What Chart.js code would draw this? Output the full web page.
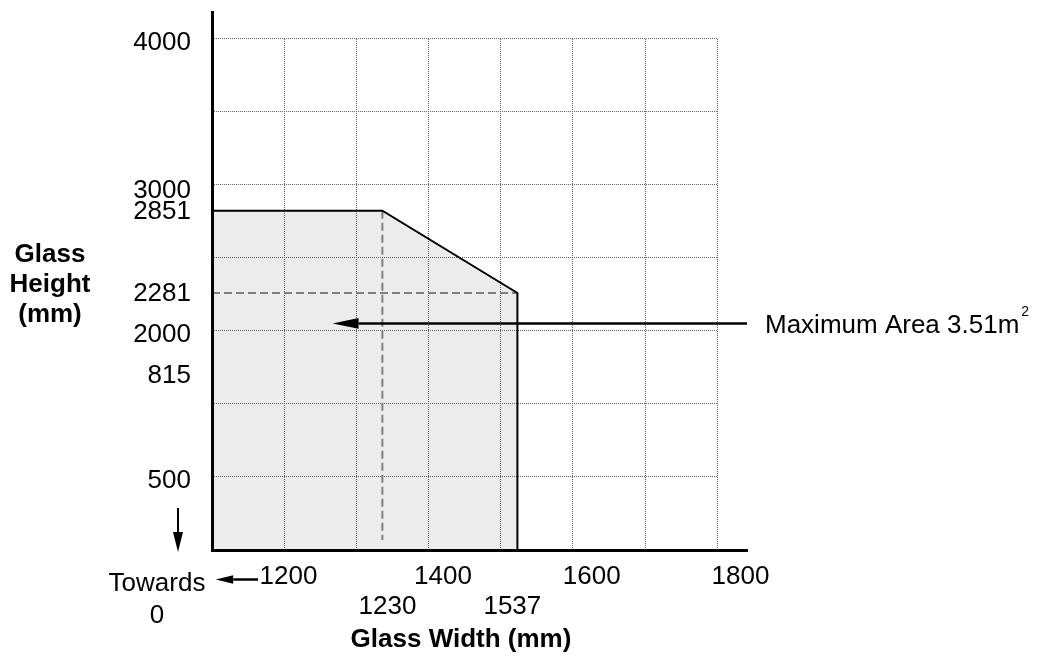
<!DOCTYPE html>
<html><head><meta charset="utf-8">
<script src="https://cdn.jsdelivr.net/npm/chart.js@4.4.0/dist/chart.umd.min.js"></script>
<style>html,body{margin:0;padding:0;background:#fff}canvas{display:block}</style>
</head><body>
<canvas id="c" width="1045" height="657"></canvas>
<script>
// ---- data (in the drawing's axis units) ----
const xRange = [1100, 1841];
const yRange = [500, 4178];
const gridX = [1200, 1300, 1400, 1500, 1600, 1700, 1800];
const gridY = [1000, 1500, 2000, 2500, 3000, 3500, 4000];
const envelopeX = [1100, 1336, 1523, 1523];
const envelopeY = [2820, 2820, 2257, 500];
const widthGuideX = [1336, 1336];
const widthGuideY = [2820, 568];
const heightGuideX = [1100, 1523];
const heightGuideY = [2257, 2257];
const areaArrowX = [1841, 1267];
const areaArrowY = [2049, 2049];
const xTickLabels = ['1200', '1400', '1600', '1800'];
const xTickAt = [1206, 1420, 1626, 1832];
const xLimitLabels = ['1230', '1537'];
const xLimitAt = [1343, 1516];
const yTickLabels = ['500', '815', '2000', '2281', '2851', '3000', '4000'];
const yTickAt = [972, 1690, 1970, 2250, 2811, 2954, 3969];
const areaLabel = 'Maximum Area 3.51m';
const areaSup = '2';

const FONT = '"Liberation Sans", Arial, Helvetica, sans-serif';
const pts = (xs, ys) => xs.map((x, i) => ({x, y: ys[i]}));
const crisp = p => Math.round(p - 0.5) + 0.5;

const gridPlugin = {
  id: 'dottedGrid',
  beforeDatasetsDraw(chart) {
    const {ctx, scales: {x, y}} = chart;
    ctx.save();
    ctx.strokeStyle = '#666';
    ctx.lineWidth = 1;
    ctx.setLineDash([1, 1]);
    const xl = x.getPixelForValue(xRange[0]);
    const xr = x.getPixelForValue(gridX[gridX.length - 1]);
    const yb = y.getPixelForValue(yRange[0]);
    const yt = y.getPixelForValue(gridY[gridY.length - 1]);
    gridX.forEach(v => {
      const px = crisp(x.getPixelForValue(v));
      ctx.beginPath(); ctx.moveTo(px, yb); ctx.lineTo(px, yt); ctx.stroke();
    });
    gridY.forEach(v => {
      const py = crisp(y.getPixelForValue(v));
      ctx.beginPath(); ctx.moveTo(xl, py); ctx.lineTo(xr, py); ctx.stroke();
    });
    ctx.restore();
  }
};

function arrow(ctx, x0, y0, x1, y1, headLen, headHalf, width) {
  const a = Math.atan2(y1 - y0, x1 - x0);
  const bx = x1 - Math.cos(a) * headLen, by = y1 - Math.sin(a) * headLen;
  ctx.lineWidth = width;
  ctx.beginPath(); ctx.moveTo(x0, y0); ctx.lineTo(bx, by); ctx.stroke();
  ctx.beginPath();
  ctx.moveTo(x1, y1);
  ctx.lineTo(bx - Math.sin(a) * headHalf, by + Math.cos(a) * headHalf);
  ctx.lineTo(bx + Math.sin(a) * headHalf, by - Math.cos(a) * headHalf);
  ctx.closePath(); ctx.fill();
}

const notePlugin = {
  id: 'notes',
  afterDraw(chart) {
    const {ctx, chartArea: ca, scales: {x, y}} = chart;
    ctx.save();
    ctx.fillStyle = '#000';
    ctx.strokeStyle = '#000';
    // area arrow
    const ay = y.getPixelForValue(areaArrowY[0]);
    arrow(ctx, x.getPixelForValue(areaArrowX[0]), ay, x.getPixelForValue(areaArrowX[1]), ay, 26, 5.3, 2.5);
    // area label
    ctx.font = '26px ' + FONT;
    ctx.textAlign = 'left';
    ctx.textBaseline = 'alphabetic';
    const tx = 765;
    ctx.fillText(areaLabel, tx, 333);
    const w = ctx.measureText(areaLabel).width;
    ctx.font = '14px ' + FONT;
    ctx.fillText(areaSup, tx + w + 2, 315.5);
    // towards 0 arrows
    arrow(ctx, ca.left - 34, ca.bottom - 42, ca.left - 34, ca.bottom + 2, 20, 5, 2);
    arrow(ctx, ca.left + 46, ca.bottom + 29.5, ca.left + 3.7, ca.bottom + 29.5, 17.5, 4.2, 2.5);
    ctx.font = '26px ' + FONT;
    ctx.textAlign = 'center';
    ctx.fillText('Towards', 157, 591);
    ctx.fillText('0', 157, 623);
    // axis titles
    ctx.font = 'bold 26px ' + FONT;
    ctx.fillText('Glass Width (mm)', 461, 646.5);
    ctx.fillText('Glass', 50, 261.5);
    ctx.fillText('Height', 50, 291.5);
    ctx.fillText('(mm)', 50, 322);
    ctx.restore();
  }
};

const tickFont = {family: FONT, size: 26};

new Chart(document.getElementById('c'), {
  type: 'scatter',
  data: {
    datasets: [
      {
        data: pts(envelopeX, envelopeY),
        showLine: true,
        fill: 'start',
        backgroundColor: 'rgba(0,0,0,0.075)',
        borderColor: '#000',
        borderWidth: 2,
        pointRadius: 0,
        tension: 0
      },
      {
        data: pts(widthGuideX, widthGuideY),
        showLine: true, fill: false,
        borderColor: '#8a8a8a', borderWidth: 2, borderDash: [8, 4],
        pointRadius: 0
      },
      {
        data: pts(heightGuideX, heightGuideY),
        showLine: true, fill: false,
        borderColor: '#8a8a8a', borderWidth: 2, borderDash: [8, 4],
        pointRadius: 0
      }
    ]
  },
  options: {
    responsive: false,
    animation: false,
    devicePixelRatio: 1,
    layout: {padding: {left: 0, top: 12, right: 298, bottom: 37}},
    plugins: {legend: {display: false}, tooltip: {enabled: false}},
    scales: {
      x: {
        type: 'linear', position: 'bottom', min: xRange[0], max: xRange[1],
        grid: {display: false, drawTicks: false},
        border: {display: true, color: '#000', width: 3, z: 1},
        ticks: {font: tickFont, color: '#000', padding: 11, autoSkip: false, maxRotation: 0,
          callback: (v, i) => xTickLabels[i]},
        afterBuildTicks: s => { s.ticks = xTickAt.map(v => ({value: v})); },
        afterFit: s => { s.height = 40; s.paddingLeft = 0; s.paddingRight = 0; }
      },
      x2: {
        type: 'linear', axis: 'x', position: 'bottom', min: xRange[0], max: xRange[1],
        grid: {display: false, drawTicks: false},
        border: {display: false},
        ticks: {font: tickFont, color: '#000', padding: 1, autoSkip: false, maxRotation: 0,
          callback: (v, i) => xLimitLabels[i]},
        afterBuildTicks: s => { s.ticks = xLimitAt.map(v => ({value: v})); },
        afterFit: s => { s.height = 30; s.paddingLeft = 0; s.paddingRight = 0; }
      },
      y: {
        type: 'linear', position: 'left', min: yRange[0], max: yRange[1],
        grid: {display: false, drawTicks: false},
        border: {display: true, color: '#000', width: 3, z: 1},
        ticks: {font: tickFont, color: '#000', padding: 21, autoSkip: false,
          callback: (v, i) => yTickLabels[i]},
        afterBuildTicks: s => { s.ticks = yTickAt.map(v => ({value: v})); },
        afterFit: s => { s.width = 212; s.paddingTop = 0; s.paddingBottom = 0; }
      }
    }
  },
  plugins: [gridPlugin, notePlugin]
});
</script>
</body></html>
